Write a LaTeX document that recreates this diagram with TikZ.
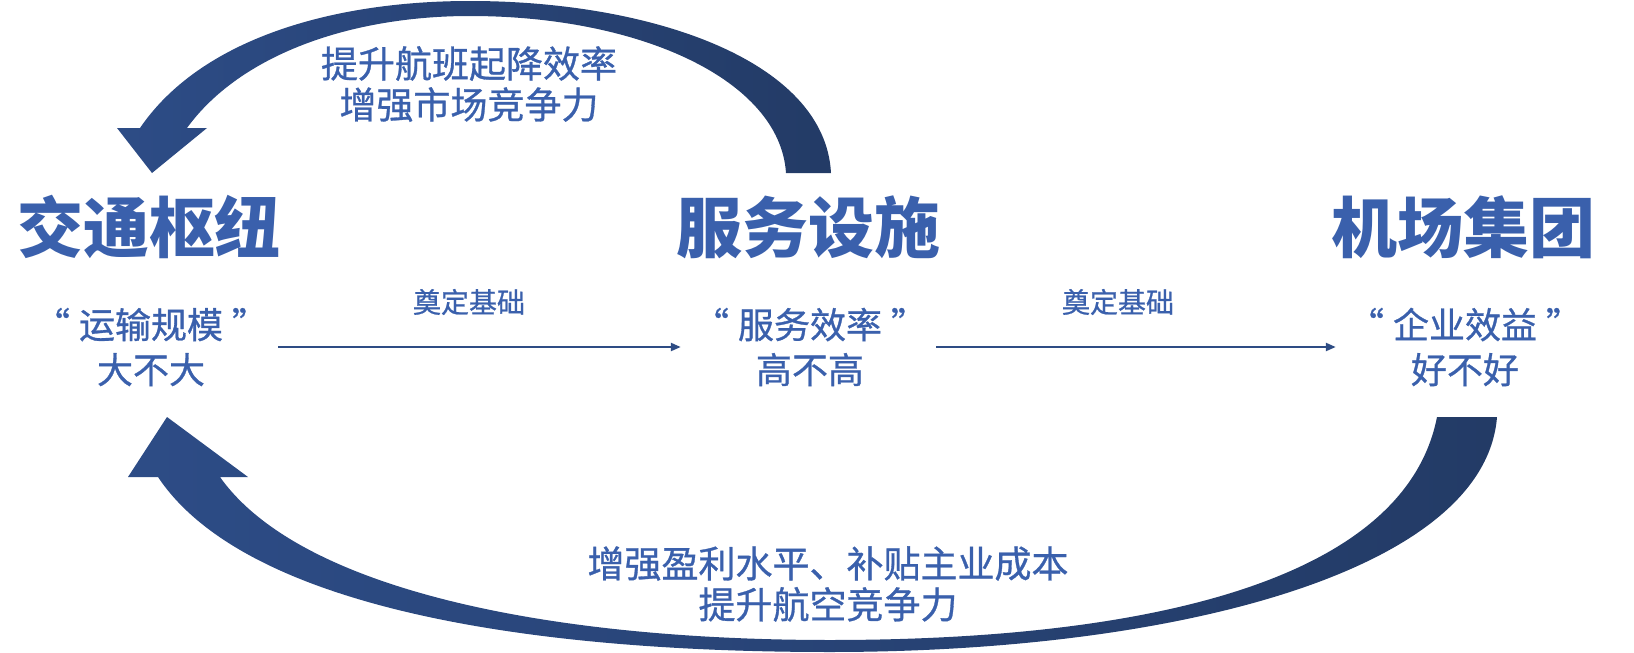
\documentclass[tikz,border=0pt]{standalone}
\usepackage{fontspec}
\newfontfamily\cjk{Noto Sans CJK SC}[FakeBold=0.8]
\newfontfamily\cjkhead{Noto Sans CJK SC}
\usetikzlibrary{arrows.meta,positioning}
\definecolor{txtblue}{HTML}{3A60AC}
\definecolor{arrowL}{HTML}{2D4C86}
\definecolor{arrowR}{HTML}{233B66}
\definecolor{lineblue}{HTML}{2E4C84}

\begin{document}
\begin{tikzpicture}[
        x=1pt,
        y=-1pt,
        text=txtblue,
        headtxt/.style={font=\cjkhead\bfseries\fontsize{66}{70}\selectfont, inner sep=0pt},
        subtxt/.style={font=\cjk\fontsize{36}{45}\selectfont, align=center, inner sep=0pt},
        cycletxt/.style={font=\cjk\fontsize{37}{41}\selectfont, align=center, inner sep=0pt},
        basetxt/.style={font=\cjk\fontsize{28}{30}\selectfont, inner sep=0pt},
        flow/.style={-{Triangle[length=10pt,width=8pt]}, line width=2.2pt, lineblue},
        bigarrow/.style={left color=arrowL, right color=arrowR}
    ]
        \useasboundingbox (0,0) rectangle (1634,653);

        \foreach \id/\x/\head/\sub in {hub/149/交通枢纽/{“\kern9pt 运输规模\kern9pt ”\\大不大},svc/808/服务设施/{“\kern9pt 服务效率\kern9pt ”\\高不高},grp/1463/机场集团/{“\kern9pt 企业效益\kern9pt ”\\好不好}} {
            \node[headtxt] (\id) at (\x,227) {\head};
            \node[subtxt] (\id-sub) at (\x+2,347) {\sub};
        }

        % forward links between the three levels
        \draw[flow, shorten <=10pt, shorten >=12pt] (hub-sub.east) -- (svc-sub.west);
        \draw[flow, shorten <=9pt, shorten >=12pt] (svc-sub.east) -- (grp-sub.west);
        \node[basetxt] at (469,302) {奠定基础};
        \node[basetxt] at (1118,302) {奠定基础};

        % feedback over the top
        \shade[bigarrow] (831,173) .. controls (825,60) and (650,1) .. (470,1)
            .. controls (330,1) and (200,40) .. (140,128)
            -- (117,128) -- (152,173) -- (207,128) -- (187,128)
            .. controls (240,55) and (350,16) .. (470,16)
            .. controls (640,16) and (780,80) .. (786,173) -- cycle;
        \node[cycletxt] (topnote) at (469,84) {提升航班起降效率\\增强市场竞争力};

        % feedback along the bottom
        \shade[bigarrow] (1497,417) .. controls (1485,570) and (1180,652) .. (830,652)
            .. controls (500,652) and (240,600) .. (158,477)
            -- (128,477) -- (167,417) -- (248,477) -- (220,477)
            .. controls (300,590) and (550,640) .. (830,640)
            .. controls (1150,640) and (1405,580) .. (1437,417) -- cycle;
        \node[cycletxt] (botnote) at (828,584) {增强盈利水平、补贴主业成本\\提升航空竞争力};
    \end{tikzpicture}
\end{document}
